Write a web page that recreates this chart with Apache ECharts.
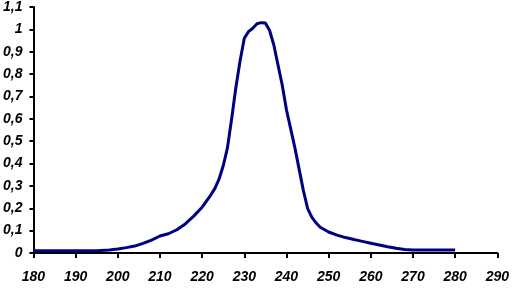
<!DOCTYPE html>
<html>
<head>
<meta charset="utf-8">
<script src="https://cdn.jsdelivr.net/npm/echarts@6/dist/echarts.min.js"></script>
<style>html,body{margin:0;padding:0;background:#fff}#c{width:512px;height:288px}</style>
</head>
<body>
<div id="c"></div>
<script>
var wavelengths = [180,185,190,195,198,200,202,204,206,208,210,212,214,216,218,220,222,223,224,225,226,227,228,229,230,231,232,233,234,235,236,237,238,239,240,241,242,243,244,245,246,247,248,250,252,254,256,258,260,262,264,266,268,270,272,275,278,280];
var absorbance = [0.010,0.010,0.010,0.010,0.013,0.018,0.024,0.031,0.043,0.058,0.076,0.086,0.104,0.130,0.165,0.205,0.258,0.288,0.330,0.390,0.470,0.600,0.740,0.860,0.960,0.990,1.005,1.025,1.030,1.028,0.995,0.930,0.840,0.750,0.640,0.555,0.470,0.375,0.280,0.200,0.160,0.135,0.115,0.094,0.080,0.069,0.060,0.052,0.044,0.036,0.028,0.021,0.016,0.013,0.013,0.013,0.013,0.013];
var xTicks = {min:180, max:290, step:10};
var yTicks = {min:0, max:1.1, step:0.1};

var pts = wavelengths.map(function(w,i){return [w, absorbance[i]];});
var font = {fontFamily:'Liberation Sans', fontWeight:'bold', fontStyle:'italic', fontSize:14, color:'#000'};
var chart = echarts.init(document.getElementById('c'), null, {renderer:'canvas'});
chart.setOption({
  animation:false,
  backgroundColor:'#fff',
  grid:{left:33, right:12, top:5, bottom:35, containLabel:false},
  xAxis:{type:'value', min:xTicks.min, max:xTicks.max, interval:xTicks.step,
    axisLine:{lineStyle:{color:'#000', width:2}},
    axisTick:{show:true, inside:false, length:5, lineStyle:{color:'#000', width:2}},
    axisLabel:Object.assign({margin:17}, font),
    splitLine:{show:false}},
  yAxis:{type:'value', min:yTicks.min, max:yTicks.max, interval:yTicks.step,
    axisLine:{show:true, lineStyle:{color:'#000', width:2}},
    axisTick:{show:true, inside:false, length:4, lineStyle:{color:'#000', width:2}},
    axisLabel:Object.assign({margin:11, formatter:function(v){return (Math.round(v*10)/10).toString().replace('.', ',');}}, font),
    splitLine:{show:false}},
  series:[{type:'line', data:pts, showSymbol:false, smooth:false,
    lineStyle:{color:'#000080', width:3}}]
});
</script>
</body>
</html>
